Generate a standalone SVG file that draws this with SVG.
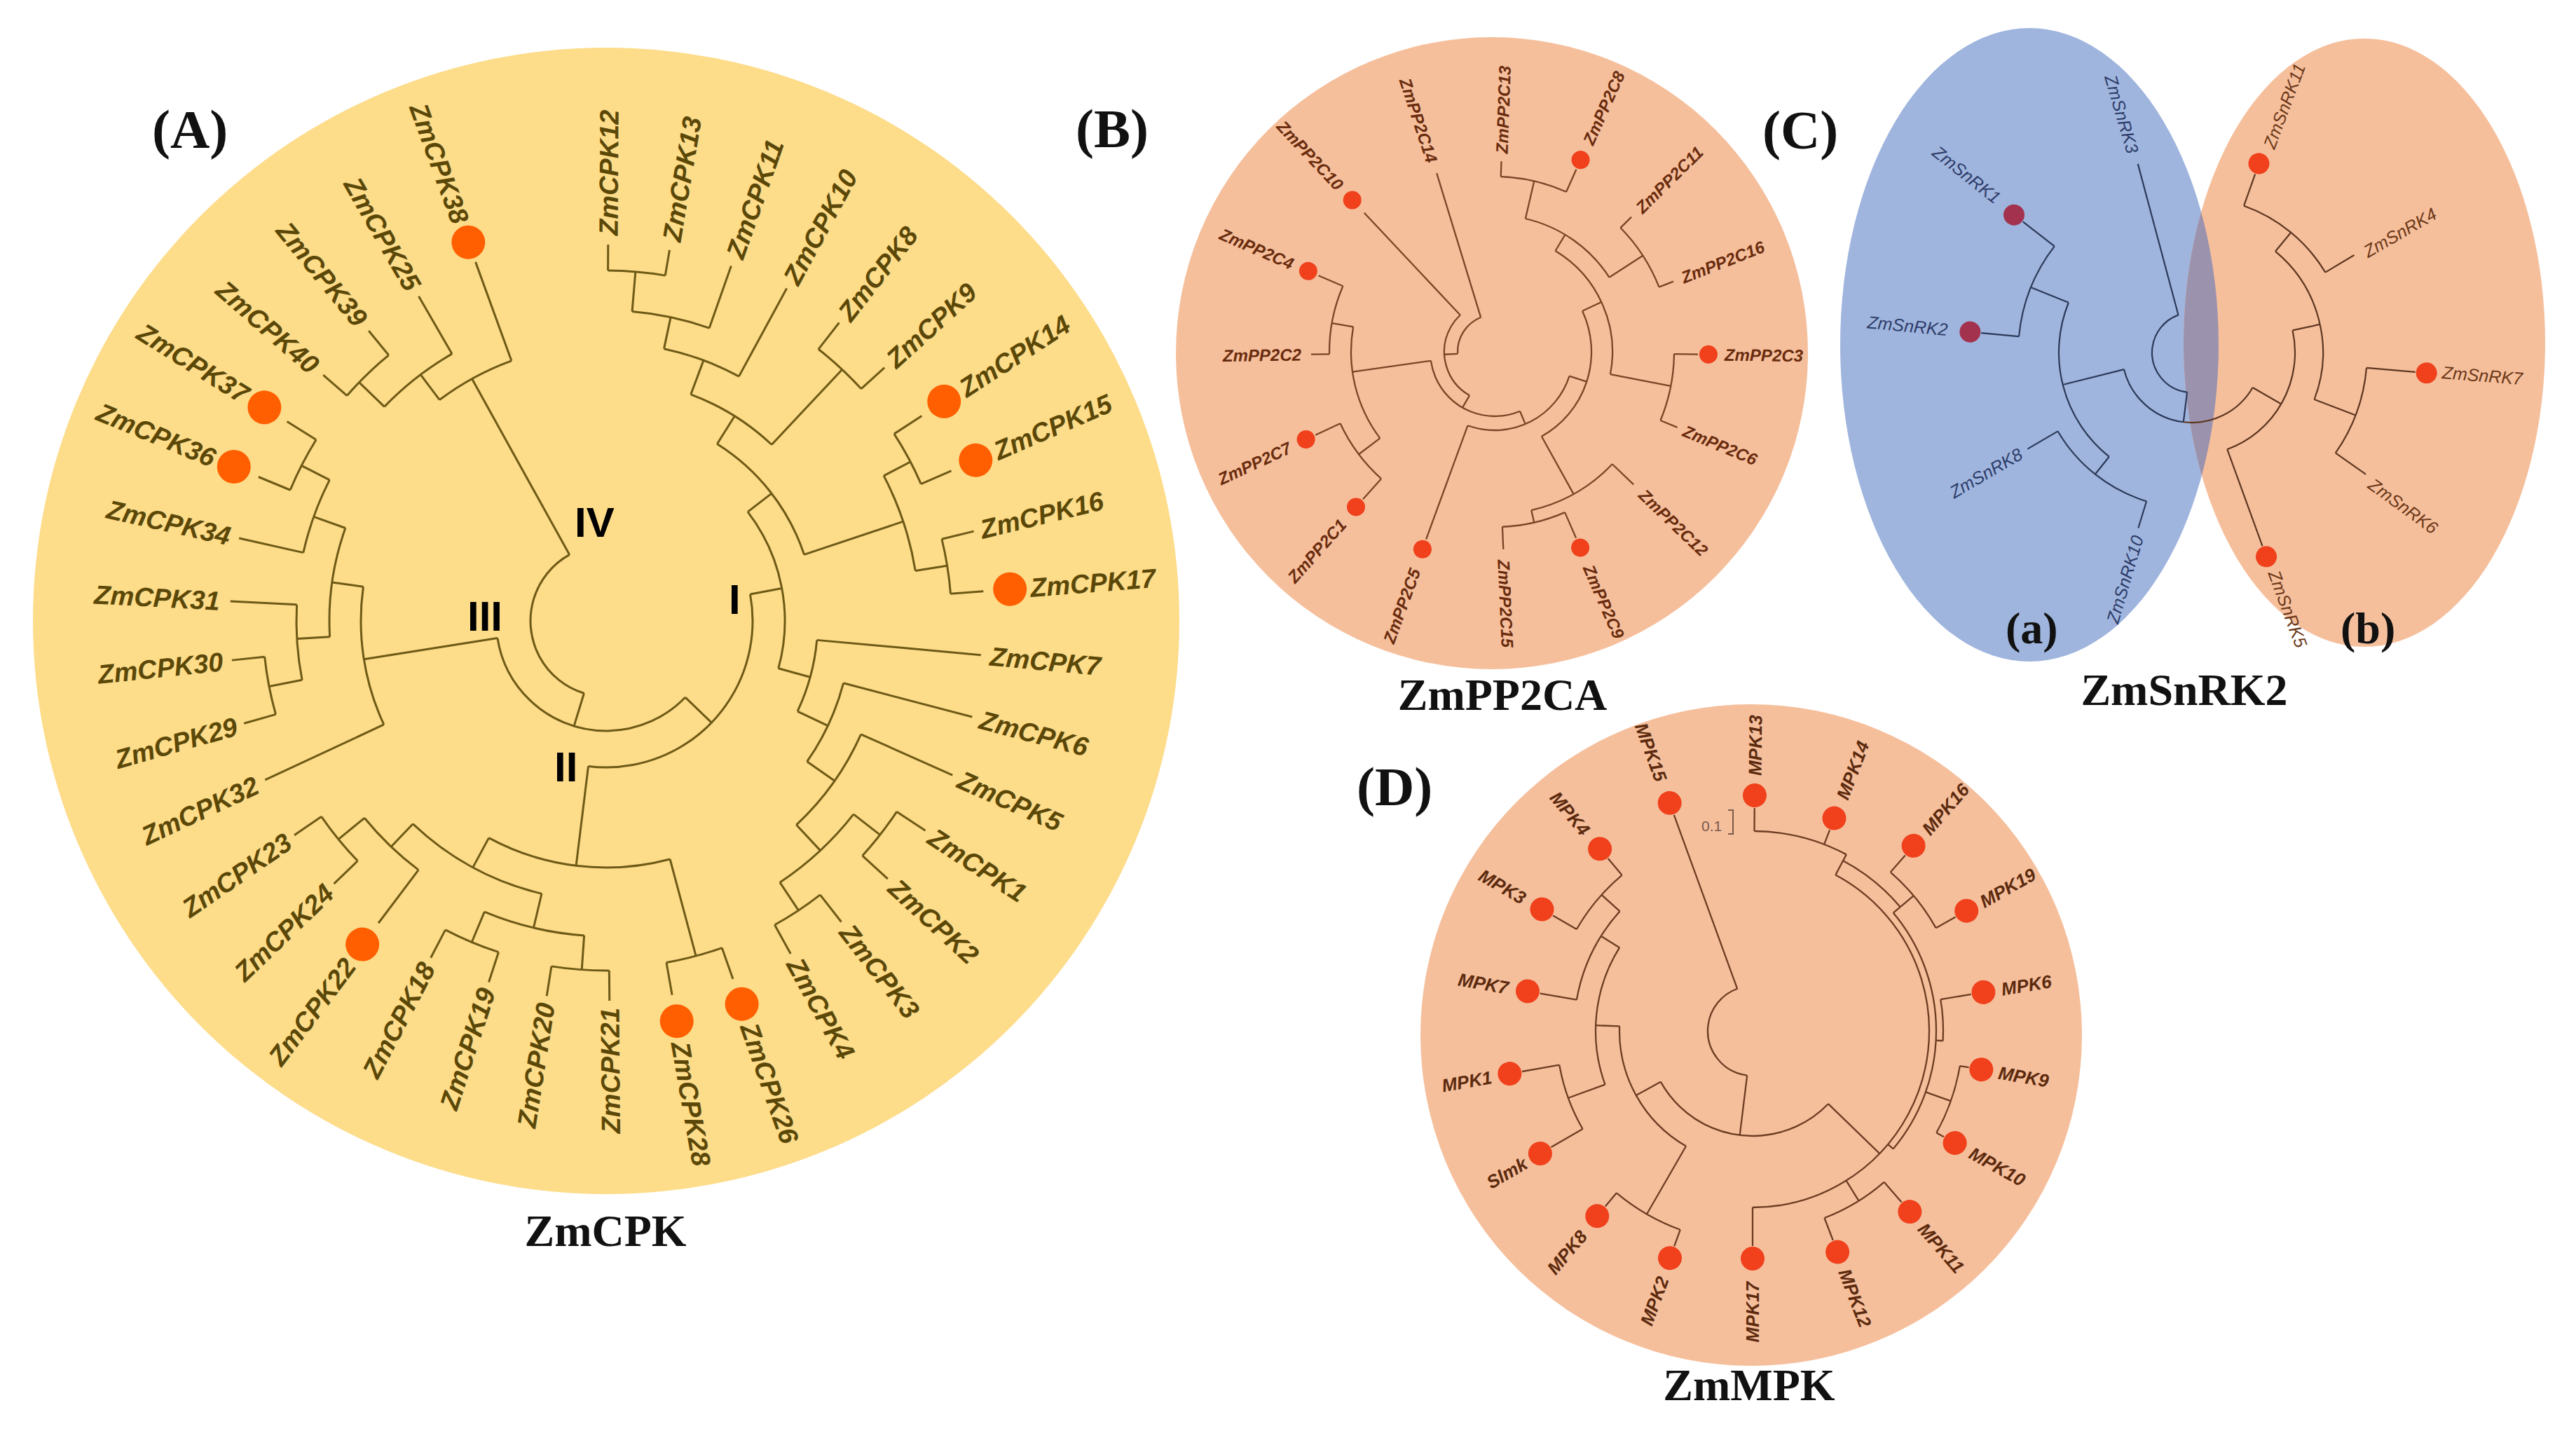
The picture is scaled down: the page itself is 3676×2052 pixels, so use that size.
<svg xmlns="http://www.w3.org/2000/svg" width="3676" height="2052" viewBox="0 0 3676 2052">
<defs>
<style>
.ta{fill:none;stroke:#6e5a16;stroke-width:3}
.tb{fill:none;stroke:#7a4526;stroke-width:2.3}
.tc{fill:none;stroke:#2c3958;stroke-width:2.2}
.td{fill:none;stroke:#5e3620;stroke-width:2.2}
.te{fill:none;stroke:#6d3c22;stroke-width:2.3}
.la{font-family:"Liberation Sans",Arial,sans-serif;font-style:italic;font-weight:bold;font-size:38px;fill:#5b4808}
.lb{font-family:"Liberation Sans",Arial,sans-serif;font-style:italic;font-weight:bold;font-size:24px;fill:#6a2c0e}
.lca{font-family:"Liberation Sans",Arial,sans-serif;font-style:italic;font-size:25px;fill:#2e3c68}
.lcb{font-family:"Liberation Sans",Arial,sans-serif;font-style:italic;font-size:25px;fill:#6c3818}
.ld{font-family:"Liberation Sans",Arial,sans-serif;font-style:italic;font-weight:bold;font-size:26px;fill:#5c2a0e}
.e{text-anchor:end}
.rom{font-family:"Liberation Sans",Arial,sans-serif;font-weight:bold;font-size:60px;fill:#000}
.pl{font-family:"Liberation Serif","Times New Roman",serif;font-weight:bold;font-size:78px;fill:#111}
.ti{font-family:"Liberation Serif","Times New Roman",serif;font-weight:bold;font-size:64px;fill:#111;text-anchor:middle}
.sub{font-family:"Liberation Serif","Times New Roman",serif;font-weight:bold;font-size:64px;fill:#111}
.dA{fill:#ff5f00}
.dB{fill:#f0401c}
.dCa{fill:#a3324e}
</style>
<clipPath id="blueClip"><ellipse cx="2896" cy="492" rx="270" ry="452"/></clipPath>
</defs>
<rect width="3676" height="2052" fill="#ffffff"/>

<!-- ================= PANEL A ================= -->
<g id="panelA">
<circle cx="865" cy="886" r="818" fill="#fddc8a"/>
<g transform="translate(865 886)">
<g id="connectorsA" class="ta">
<line x1="108" x2="395" transform="rotate(-119)"/>
<line x1="395" x2="545" transform="rotate(-110)"/>
<line x1="395" x2="440" transform="rotate(-127)"/>
<line x1="440" x2="535" transform="rotate(-120)"/>
<line x1="440" x2="490" transform="rotate(-136)"/>
<line x1="490" x2="535" transform="rotate(-129.3)"/>
<line x1="490" x2="535" transform="rotate(-139)"/>
<line x1="108" x2="157" transform="rotate(107)"/>
<line x1="157" x2="350" transform="rotate(171)"/>
<line x1="350" x2="537" transform="rotate(155)"/>
<line x1="350" x2="395" transform="rotate(188)"/>
<line x1="395" x2="442" transform="rotate(176.7)"/>
<line x1="442" x2="537" transform="rotate(183)"/>
<line x1="442" x2="490" transform="rotate(169)"/>
<line x1="490" x2="537" transform="rotate(174)"/>
<line x1="490" x2="537" transform="rotate(164.2)"/>
<line x1="395" x2="443" transform="rotate(199.6)"/>
<line x1="443" x2="537" transform="rotate(192.7)"/>
<line x1="443" x2="488" transform="rotate(207)"/>
<line x1="488" x2="537" transform="rotate(202.5)"/>
<line x1="488" x2="537" transform="rotate(212)"/>
<line x1="157" x2="209" transform="rotate(44)"/>
<line x1="209" x2="352" transform="rotate(97)"/>
<line x1="352" x2="400" transform="rotate(118.4)"/>
<line x1="400" x2="445" transform="rotate(133.6)"/>
<line x1="445" x2="493" transform="rotate(140.8)"/>
<line x1="493" x2="540" transform="rotate(145.5)"/>
<line x1="493" x2="540" transform="rotate(136)"/>
<line x1="445" x2="540" transform="rotate(127)"/>
<line x1="400" x2="450" transform="rotate(103.3)"/>
<line x1="450" x2="497" transform="rotate(112.7)"/>
<line x1="497" x2="542" transform="rotate(117.5)"/>
<line x1="497" x2="542" transform="rotate(108)"/>
<line x1="450" x2="499" transform="rotate(94)"/>
<line x1="499" x2="542" transform="rotate(99)"/>
<line x1="499" x2="542" transform="rotate(89.5)"/>
<line x1="352" x2="495" transform="rotate(75)"/>
<line x1="495" x2="542" transform="rotate(80)"/>
<line x1="495" x2="542" transform="rotate(70.5)"/>
<line x1="209" x2="255" transform="rotate(-10.5)"/>
<line x1="255" x2="298" transform="rotate(-37.6)"/>
<line x1="298" x2="447" transform="rotate(-18.5)"/>
<line x1="447" x2="490" transform="rotate(-27.6)"/>
<line x1="490" x2="537" transform="rotate(-33)"/>
<line x1="490" x2="537" transform="rotate(-23.5)"/>
<line x1="447" x2="493" transform="rotate(-9.2)"/>
<line x1="493" x2="540" transform="rotate(-13.7)"/>
<line x1="493" x2="540" transform="rotate(-4.5)"/>
<line x1="298" x2="345" transform="rotate(-57.9)"/>
<line x1="345" x2="492" transform="rotate(-46.8)"/>
<line x1="492" x2="540" transform="rotate(-52)"/>
<line x1="492" x2="537" transform="rotate(-42.3)"/>
<line x1="345" x2="397" transform="rotate(-69.5)"/>
<line x1="397" x2="540" transform="rotate(-61.5)"/>
<line x1="397" x2="443" transform="rotate(-78)"/>
<line x1="443" x2="537" transform="rotate(-70.6)"/>
<line x1="443" x2="500" transform="rotate(-85.2)"/>
<line x1="500" x2="537" transform="rotate(-89.7)"/>
<line x1="500" x2="537" transform="rotate(-80.3)"/>
<line x1="255" x2="302" transform="rotate(15.4)"/>
<line x1="302" x2="537" transform="rotate(5.2)"/>
<line x1="302" x2="350" transform="rotate(25.3)"/>
<line x1="350" x2="540" transform="rotate(14.7)"/>
<line x1="350" x2="398" transform="rotate(35)"/>
<line x1="398" x2="541" transform="rotate(24)"/>
<line x1="398" x2="448" transform="rotate(47)"/>
<line x1="448" x2="496" transform="rotate(38)"/>
<line x1="496" x2="545" transform="rotate(33.3)"/>
<line x1="496" x2="545" transform="rotate(42.5)"/>
<line x1="448" x2="496" transform="rotate(56.4)"/>
<line x1="496" x2="545" transform="rotate(52)"/>
<line x1="496" x2="543" transform="rotate(61)"/>
<circle r="108" transform="rotate(107)" stroke-dasharray="252.6 9999"/>
<circle r="395" transform="rotate(-127)" stroke-dasharray="117.2 9999"/>
<circle r="440" transform="rotate(-136)" stroke-dasharray="122.9 9999"/>
<circle r="490" transform="rotate(-139)" stroke-dasharray="83 9999"/>
<circle r="157" transform="rotate(44)" stroke-dasharray="348 9999"/>
<circle r="350" transform="rotate(155)" stroke-dasharray="201.6 9999"/>
<circle r="395" transform="rotate(176.7)" stroke-dasharray="157.9 9999"/>
<circle r="442" transform="rotate(169)" stroke-dasharray="108 9999"/>
<circle r="490" transform="rotate(164.2)" stroke-dasharray="83.8 9999"/>
<circle r="443" transform="rotate(192.7)" stroke-dasharray="110.6 9999"/>
<circle r="488" transform="rotate(202.5)" stroke-dasharray="80.9 9999"/>
<circle r="209" transform="rotate(-10.5)" stroke-dasharray="392.1 9999"/>
<circle r="352" transform="rotate(75)" stroke-dasharray="266.6 9999"/>
<circle r="400" transform="rotate(103.3)" stroke-dasharray="211.5 9999"/>
<circle r="445" transform="rotate(127)" stroke-dasharray="107.2 9999"/>
<circle r="493" transform="rotate(136)" stroke-dasharray="81.7 9999"/>
<circle r="450" transform="rotate(94)" stroke-dasharray="146.9 9999"/>
<circle r="497" transform="rotate(108)" stroke-dasharray="82.4 9999"/>
<circle r="499" transform="rotate(89.5)" stroke-dasharray="82.7 9999"/>
<circle r="495" transform="rotate(70.5)" stroke-dasharray="82.1 9999"/>
<circle r="255" transform="rotate(-37.6)" stroke-dasharray="235.9 9999"/>
<circle r="298" transform="rotate(-57.9)" stroke-dasharray="204.9 9999"/>
<circle r="447" transform="rotate(-27.6)" stroke-dasharray="143.5 9999"/>
<circle r="490" transform="rotate(-33)" stroke-dasharray="81.2 9999"/>
<circle r="493" transform="rotate(-13.7)" stroke-dasharray="79.2 9999"/>
<circle r="345" transform="rotate(-69.5)" stroke-dasharray="136.7 9999"/>
<circle r="492" transform="rotate(-52)" stroke-dasharray="83.3 9999"/>
<circle r="397" transform="rotate(-78)" stroke-dasharray="114.3 9999"/>
<circle r="443" transform="rotate(-85.2)" stroke-dasharray="112.9 9999"/>
<circle r="500" transform="rotate(-89.7)" stroke-dasharray="82 9999"/>
<circle r="302" transform="rotate(5.2)" stroke-dasharray="105.9 9999"/>
<circle r="350" transform="rotate(14.7)" stroke-dasharray="124 9999"/>
<circle r="398" transform="rotate(24)" stroke-dasharray="159.8 9999"/>
<circle r="448" transform="rotate(38)" stroke-dasharray="143.9 9999"/>
<circle r="496" transform="rotate(33.3)" stroke-dasharray="79.6 9999"/>
<circle r="496" transform="rotate(52)" stroke-dasharray="77.9 9999"/>
</g>
<g id="dotsA" class="dA">
<circle cx="575" r="24" transform="rotate(-33)"/>
<circle cx="575" r="24" transform="rotate(-23.5)"/>
<circle cx="578" r="24" transform="rotate(-4.5)"/>
<circle cx="580" r="24" transform="rotate(70.5)"/>
<circle cx="580" r="24" transform="rotate(80)"/>
<circle cx="578" r="24" transform="rotate(127)"/>
<circle cx="575" r="24" transform="rotate(202.5)"/>
<circle cx="575" r="24" transform="rotate(212)"/>
<circle cx="575" r="24" transform="rotate(250)"/>
</g>
<g id="labelsA">
<text id="ZmCPK12" class="la" transform="rotate(-89.7) translate(550 0)" dy=".36em">ZmCPK12</text>
<text id="ZmCPK13" class="la" transform="rotate(-80.3) translate(550 0)" dy=".36em">ZmCPK13</text>
<text id="ZmCPK11" class="la" transform="rotate(-70.6) translate(550 0)" dy=".36em">ZmCPK11</text>
<text id="ZmCPK10" class="la" transform="rotate(-61.5) translate(550 0)" dy=".36em">ZmCPK10</text>
<text id="ZmCPK8" class="la" transform="rotate(-52) translate(550 0)" dy=".36em">ZmCPK8</text>
<text id="ZmCPK9" class="la" transform="rotate(-42.3) translate(548 0)" dy=".36em">ZmCPK9</text>
<text id="ZmCPK14" class="la" transform="rotate(-33) translate(605 0)" dy=".36em">ZmCPK14</text>
<text id="ZmCPK15" class="la" transform="rotate(-23.5) translate(605 0)" dy=".36em">ZmCPK15</text>
<text id="ZmCPK16" class="la" transform="rotate(-13.7) translate(550 0)" dy=".36em">ZmCPK16</text>
<text id="ZmCPK17" class="la" transform="rotate(-4.5) translate(607 0)" dy=".36em">ZmCPK17</text>
<text id="ZmCPK7" class="la" transform="rotate(5.2) translate(550 0)" dy=".36em">ZmCPK7</text>
<text id="ZmCPK6" class="la" transform="rotate(14.7) translate(552 0)" dy=".36em">ZmCPK6</text>
<text id="ZmCPK5" class="la" transform="rotate(24) translate(552 0)" dy=".36em">ZmCPK5</text>
<text id="ZmCPK1" class="la" transform="rotate(33.3) translate(555 0)" dy=".36em">ZmCPK1</text>
<text id="ZmCPK2" class="la" transform="rotate(42.5) translate(555 0)" dy=".36em">ZmCPK2</text>
<text id="ZmCPK3" class="la" transform="rotate(52) translate(555 0)" dy=".36em">ZmCPK3</text>
<text id="ZmCPK4" class="la" transform="rotate(61) translate(553 0)" dy=".36em">ZmCPK4</text>
<text id="ZmCPK26" class="la" transform="rotate(70.5) translate(610 0)" dy=".36em">ZmCPK26</text>
<text id="ZmCPK28" class="la" transform="rotate(80) translate(610 0)" dy=".36em">ZmCPK28</text>
<text id="ZmCPK21" class="la e" transform="rotate(89.5) translate(552 0) rotate(180)" dy=".36em">ZmCPK21</text>
<text id="ZmCPK20" class="la e" transform="rotate(99) translate(552 0) rotate(180)" dy=".36em">ZmCPK20</text>
<text id="ZmCPK19" class="la e" transform="rotate(108) translate(552 0) rotate(180)" dy=".36em">ZmCPK19</text>
<text id="ZmCPK18" class="la e" transform="rotate(117.5) translate(552 0) rotate(180)" dy=".36em">ZmCPK18</text>
<text id="ZmCPK22" class="la e" transform="rotate(127) translate(608 0) rotate(180)" dy=".36em">ZmCPK22</text>
<text id="ZmCPK24" class="la e" transform="rotate(136) translate(550 0) rotate(180)" dy=".36em">ZmCPK24</text>
<text id="ZmCPK23" class="la e" transform="rotate(145.5) translate(550 0) rotate(180)" dy=".36em">ZmCPK23</text>
<text id="ZmCPK32" class="la e" transform="rotate(155) translate(550 0) rotate(180)" dy=".36em">ZmCPK32</text>
<text id="ZmCPK29" class="la e" transform="rotate(164.2) translate(548 0) rotate(180)" dy=".36em">ZmCPK29</text>
<text id="ZmCPK30" class="la e" transform="rotate(174) translate(550 0) rotate(180)" dy=".36em">ZmCPK30</text>
<text id="ZmCPK31" class="la e" transform="rotate(183) translate(552 0) rotate(180)" dy=".36em">ZmCPK31</text>
<text id="ZmCPK34" class="la e" transform="rotate(192.7) translate(550 0) rotate(180)" dy=".36em">ZmCPK34</text>
<text id="ZmCPK36" class="la e" transform="rotate(202.5) translate(605 0) rotate(180)" dy=".36em">ZmCPK36</text>
<text id="ZmCPK37" class="la e" transform="rotate(212) translate(605 0) rotate(180)" dy=".36em">ZmCPK37</text>
<text id="ZmCPK40" class="la e" transform="rotate(221) translate(550 0) rotate(180)" dy=".36em">ZmCPK40</text>
<text id="ZmCPK39" class="la e" transform="rotate(230.7) translate(550 0) rotate(180)" dy=".36em">ZmCPK39</text>
<text id="ZmCPK25" class="la e" transform="rotate(240) translate(548 0) rotate(180)" dy=".36em">ZmCPK25</text>
<text id="ZmCPK38" class="la e" transform="rotate(250) translate(605 0) rotate(180)" dy=".36em">ZmCPK38</text>
</g>
<g id="cladesA">
<text class="rom" x="-45" y="-120">IV</text>
<text class="rom" x="-198" y="14">III</text>
<text class="rom" x="-74" y="229">II</text>
<text class="rom" x="175" y="-10">I</text>
</g>
</g>
<text id="labA" class="pl" x="217" y="211">(A)</text>
<text id="titleA" class="ti" x="864" y="1778">ZmCPK</text>
</g>

<!-- ================= PANEL B ================= -->
<g id="panelB">
<circle cx="2129" cy="504" r="451" fill="#f5bf9c"/>
<g transform="translate(2133 502)">
<g id="connectorsB" class="tb">
<path d="M53,0 L267.3,18.7" transform="rotate(-112)"/>
<line x1="53" x2="72" transform="rotate(177)"/>
<line x1="72" x2="272" transform="rotate(-133.2)"/>
<line x1="72" x2="92" transform="rotate(120)"/>
<line x1="92" x2="205" transform="rotate(172)"/>
<line x1="205" x2="243" transform="rotate(143)"/>
<line x1="243" x2="282" transform="rotate(131.8)"/>
<line x1="243" x2="282" transform="rotate(155.1)"/>
<line x1="205" x2="236" transform="rotate(190)"/>
<line x1="236" x2="262" transform="rotate(179.2)"/>
<line x1="236" x2="274" transform="rotate(203.4)"/>
<line x1="92" x2="112" transform="rotate(67)"/>
<line x1="112" x2="285" transform="rotate(110.1)"/>
<line x1="112" x2="138" transform="rotate(18)"/>
<line x1="138" x2="232" transform="rotate(61)"/>
<line x1="232" x2="274" transform="rotate(43.7)"/>
<line x1="232" x2="250" transform="rotate(77)"/>
<line x1="250" x2="290" transform="rotate(66.4)"/>
<line x1="250" x2="282" transform="rotate(87.5)"/>
<line x1="138" x2="168" transform="rotate(-25)"/>
<line x1="168" x2="256" transform="rotate(11)"/>
<line x1="256" x2="290" transform="rotate(0.7)"/>
<line x1="256" x2="282" transform="rotate(22.5)"/>
<line x1="168" x2="195" transform="rotate(-59)"/>
<line x1="195" x2="250" transform="rotate(-77)"/>
<line x1="250" x2="272" transform="rotate(-88)"/>
<line x1="250" x2="285" transform="rotate(-65.9)"/>
<line x1="195" x2="252" transform="rotate(-33)"/>
<line x1="252" x2="274" transform="rotate(-44.6)"/>
<line x1="252" x2="274" transform="rotate(-21.5)"/>
<circle r="53" transform="rotate(177)" stroke-dasharray="65.7 9999"/>
<circle r="72" transform="rotate(120)" stroke-dasharray="134.5 9999"/>
<circle r="92" transform="rotate(67)" stroke-dasharray="168.6 9999"/>
<circle r="205" transform="rotate(143)" stroke-dasharray="168.2 9999"/>
<circle r="243" transform="rotate(131.8)" stroke-dasharray="98.8 9999"/>
<circle r="236" transform="rotate(179.2)" stroke-dasharray="99.7 9999"/>
<circle r="112" transform="rotate(18)" stroke-dasharray="179.8 9999"/>
<circle r="138" transform="rotate(-25)" stroke-dasharray="207.1 9999"/>
<circle r="232" transform="rotate(43.7)" stroke-dasharray="134.8 9999"/>
<circle r="250" transform="rotate(66.4)" stroke-dasharray="92.1 9999"/>
<circle r="168" transform="rotate(-59)" stroke-dasharray="205.2 9999"/>
<circle r="256" transform="rotate(0.7)" stroke-dasharray="97.4 9999"/>
<circle r="195" transform="rotate(-77)" stroke-dasharray="149.7 9999"/>
<circle r="250" transform="rotate(-88)" stroke-dasharray="96.4 9999"/>
<circle r="252" transform="rotate(-44.6)" stroke-dasharray="101.6 9999"/>
</g>
<g id="dotsB" class="dB">
<circle cx="300" r="13" transform="rotate(-65.9)"/>
<circle cx="305" r="13" transform="rotate(0.7)"/>
<circle cx="305" r="13" transform="rotate(66.4)"/>
<circle cx="300" r="13" transform="rotate(110.1)"/>
<circle cx="297" r="13" transform="rotate(131.8)"/>
<circle cx="297" r="13" transform="rotate(155.1)"/>
<circle cx="290" r="13" transform="rotate(203.4)"/>
<circle cx="297" r="13" transform="rotate(226.8)"/>
</g>
<g id="labelsB">
<text id="ZmPP2C13" class="lb" transform="rotate(-88) translate(283 0)" dy=".36em">ZmPP2C13</text>
<text id="ZmPP2C8" class="lb" transform="rotate(-65.9) translate(325 0)" dy=".36em">ZmPP2C8</text>
<text id="ZmPP2C11" class="lb" transform="rotate(-44.6) translate(288 0)" dy=".36em">ZmPP2C11</text>
<text id="ZmPP2C16" class="lb" transform="rotate(-21.5) translate(287 0)" dy=".36em">ZmPP2C16</text>
<text id="ZmPP2C3" class="lb" transform="rotate(0.7) translate(328 0)" dy=".36em">ZmPP2C3</text>
<text id="ZmPP2C6" class="lb" transform="rotate(22.5) translate(292 0)" dy=".36em">ZmPP2C6</text>
<text id="ZmPP2C12" class="lb" transform="rotate(43.7) translate(290 0)" dy=".36em">ZmPP2C12</text>
<text id="ZmPP2C9" class="lb" transform="rotate(66.4) translate(333 0)" dy=".36em">ZmPP2C9</text>
<text id="ZmPP2C15" class="lb" transform="rotate(87.5) translate(297 0)" dy=".36em">ZmPP2C15</text>
<text id="ZmPP2C5" class="lb e" transform="rotate(110.1) translate(330 0) rotate(180)" dy=".36em">ZmPP2C5</text>
<text id="ZmPP2C1" class="lb e" transform="rotate(131.8) translate(325 0) rotate(180)" dy=".36em">ZmPP2C1</text>
<text id="ZmPP2C7" class="lb e" transform="rotate(155.1) translate(322 0) rotate(180)" dy=".36em">ZmPP2C7</text>
<text id="ZmPP2C2" class="lb e" transform="rotate(179.2) translate(276 0) rotate(180)" dy=".36em">ZmPP2C2</text>
<text id="ZmPP2C4" class="lb e" transform="rotate(203.4) translate(314 0) rotate(180)" dy=".36em">ZmPP2C4</text>
<text id="ZmPP2C10" class="lb e" transform="rotate(226.8) translate(322 0) rotate(180)" dy=".36em">ZmPP2C10</text>
<text id="ZmPP2C14" class="lb e" transform="rotate(251.8) translate(285 0) rotate(180)" dy=".36em">ZmPP2C14</text>
</g>
</g>
<text id="labB" class="pl" x="1535" y="210">(B)</text>
<text id="titleB" class="ti" x="2144" y="1013">ZmPP2CA</text>
</g>

<!-- ================= PANEL C ================= -->
<g id="panelC">
<ellipse id="groupA" cx="2896" cy="492" rx="270" ry="452" fill="#9fb5de"/>
<ellipse id="groupB" cx="3374" cy="489" rx="258" ry="434" fill="#f5bf9c"/>
<ellipse cx="3374" cy="489" rx="258" ry="434" fill="#9b93ae" clip-path="url(#blueClip)"/>
<g transform="translate(3128 503)">
<g id="connectorsC">
<g class="tc">
<path d="M57,0 L279.3,19.5" transform="rotate(-110)"/>
<line x1="57" x2="100" transform="rotate(97)"/>
<line x1="100" x2="190" transform="rotate(166)"/>
<line x1="190" x2="248" transform="rotate(202)"/>
<line x1="248" x2="302" transform="rotate(185.3)"/>
<line x1="248" x2="305" transform="rotate(217.7)"/>
<line x1="190" x2="222" transform="rotate(128.5)"/>
<line x1="222" x2="272" transform="rotate(149.6)"/>
<line x1="222" x2="262" transform="rotate(107)"/>
<circle r="57" transform="rotate(97)" stroke-dasharray="152.2 9999"/>
<circle r="100" transform="rotate(97)" stroke-dasharray="120.4 9999"/>
<circle r="190" transform="rotate(128.5)" stroke-dasharray="243.7 9999"/>
<circle r="248" transform="rotate(185.3)" stroke-dasharray="140.2 9999"/>
<circle r="222" transform="rotate(107)" stroke-dasharray="165.1 9999"/>
</g>
<g class="td">
<circle r="100" transform="rotate(30)" stroke-dasharray="116.9 9999"/>
<line x1="100" x2="147" transform="rotate(30)"/>
<line x1="147" x2="294" transform="rotate(70)"/>
<line x1="147" x2="187" transform="rotate(-12.4)"/>
<line x1="187" x2="222" transform="rotate(-50.5)"/>
<line x1="222" x2="270" transform="rotate(-70.5)"/>
<line x1="222" x2="270" transform="rotate(-31)"/>
<line x1="187" x2="250" transform="rotate(21)"/>
<line x1="250" x2="320" transform="rotate(5)"/>
<line x1="250" x2="303" transform="rotate(35)"/>
<circle r="147" transform="rotate(-12.4)" stroke-dasharray="211.4 9999"/>
<circle r="187" transform="rotate(-50.5)" stroke-dasharray="233.4 9999"/>
<circle r="222" transform="rotate(-70.5)" stroke-dasharray="153 9999"/>
<circle r="250" transform="rotate(5)" stroke-dasharray="130.9 9999"/>
</g>
</g>
<g id="dotsC">
<circle class="dCa" cx="321" r="15" transform="rotate(217.7)"/>
<circle class="dCa" cx="318" r="15" transform="rotate(185.3)"/>
<circle class="dB" cx="286" r="15" transform="rotate(-70.5)"/>
<circle class="dB" cx="336" r="15" transform="rotate(5)"/>
<circle class="dB" cx="310" r="15" transform="rotate(70)"/>
</g>
<g id="labelsC">
<text id="ZmSnRK3" class="lca e" transform="rotate(253.6) translate(297 0) rotate(180)" dy=".36em">ZmSnRK3</text>
<text id="ZmSnRK1" class="lca e" transform="rotate(218.3) translate(352 0) rotate(180)" dy=".36em">ZmSnRK1</text>
<text id="ZmSnRK2" class="lca e" transform="rotate(185.4) translate(350 0) rotate(180)" dy=".36em">ZmSnRK2</text>
<text id="ZmSnRK8" class="lca e" transform="rotate(149.7) translate(283 0) rotate(180)" dy=".36em">ZmSnRK8</text>
<text id="ZmSnRK10" class="lca e" transform="rotate(106.5) translate(273 0) rotate(180)" dy=".36em">ZmSnRK10</text>
<text id="ZmSnRK11" class="lcb" transform="rotate(-69.5) translate(312 0)" dy=".36em">ZmSnRK11</text>
<text id="ZmSnRK4" class="lcb" transform="rotate(-30) translate(285 0)" dy=".36em">ZmSnRK4</text>
<text id="ZmSnRK7" class="lcb" transform="rotate(4.5) translate(358 0)" dy=".36em">ZmSnRK7</text>
<text id="ZmSnRK6" class="lcb" transform="rotate(36) translate(315 0)" dy=".36em">ZmSnRK6</text>
<text id="ZmSnRK5" class="lcb" transform="rotate(69.5) translate(333 0)" dy=".36em">ZmSnRK5</text>
</g>
</g>
<text id="labC" class="pl" x="2515" y="212">(C)</text>
<text id="suba" class="sub" x="2862" y="918">(a)</text>
<text id="subb" class="sub" x="3340" y="918">(b)</text>
<text id="titleC" class="ti" x="3117" y="1006">ZmSnRK2</text>
</g>

<!-- ================= PANEL D ================= -->
<g id="panelD">
<circle cx="2499" cy="1477" r="472" fill="#f5bf9c"/>
<g transform="translate(2501 1471)">
<g id="connectorsD" class="te">
<line x1="64" x2="328" transform="rotate(250)"/>
<line x1="64" x2="150" transform="rotate(97)"/>
<line x1="150" x2="190" transform="rotate(151)"/>
<line x1="190" x2="302" transform="rotate(120)"/>
<line x1="302" x2="327" transform="rotate(110)"/>
<line x1="302" x2="327" transform="rotate(130)"/>
<line x1="190" x2="224" transform="rotate(182)"/>
<line x1="224" x2="280" transform="rotate(160)"/>
<line x1="280" x2="332" transform="rotate(150)"/>
<line x1="280" x2="334" transform="rotate(170)"/>
<line x1="224" x2="255" transform="rotate(212)"/>
<line x1="255" x2="308" transform="rotate(190)"/>
<line x1="255" x2="290" transform="rotate(222)"/>
<line x1="290" x2="329" transform="rotate(210)"/>
<line x1="290" x2="321" transform="rotate(230)"/>
<line x1="150" x2="252" transform="rotate(44)"/>
<line x1="252" x2="307" transform="rotate(90)"/>
<line x1="252" x2="286" transform="rotate(58)"/>
<line x1="286" x2="324" transform="rotate(49)"/>
<line x1="286" x2="320" transform="rotate(69)"/>
<line x1="252" x2="262" transform="rotate(40)"/>
<line x1="262" x2="300" transform="rotate(19.5)"/>
<line x1="300" x2="313" transform="rotate(9.6)"/>
<line x1="300" x2="312" transform="rotate(29)"/>
<line x1="262" x2="272" transform="rotate(3)"/>
<line x1="272" x2="316" transform="rotate(-9.5)"/>
<line x1="262" x2="300" transform="rotate(-40)"/>
<line x1="300" x2="332" transform="rotate(-49)"/>
<line x1="300" x2="332" transform="rotate(-29.3)"/>
<line x1="252" x2="285" transform="rotate(-62)"/>
<line x1="285" x2="318" transform="rotate(-89.5)"/>
<line x1="285" x2="307" transform="rotate(-69)"/>
<circle r="64" transform="rotate(97)" stroke-dasharray="170.9 9999"/>
<circle r="150" transform="rotate(44)" stroke-dasharray="280.1 9999"/>
<circle r="190" transform="rotate(120)" stroke-dasharray="205.6 9999"/>
<circle r="302" transform="rotate(110)" stroke-dasharray="105.4 9999"/>
<circle r="224" transform="rotate(160)" stroke-dasharray="203.3 9999"/>
<circle r="280" transform="rotate(150)" stroke-dasharray="97.7 9999"/>
<circle r="255" transform="rotate(190)" stroke-dasharray="142.4 9999"/>
<circle r="290" transform="rotate(210)" stroke-dasharray="101.2 9999"/>
<circle r="252" transform="rotate(-62)" stroke-dasharray="668.5 9999"/>
<circle r="286" transform="rotate(49)" stroke-dasharray="99.8 9999"/>
<circle r="262" transform="rotate(-40)" stroke-dasharray="365.8 9999"/>
<circle r="300" transform="rotate(9.6)" stroke-dasharray="101.6 9999"/>
<circle r="272" transform="rotate(-9.5)" stroke-dasharray="59.4 9999"/>
<circle r="300" transform="rotate(-49)" stroke-dasharray="103.1 9999"/>
<circle r="285" transform="rotate(-89.5)" stroke-dasharray="136.8 9999"/>
<circle r="275" transform="rotate(-62)" stroke-dasharray="105.6 9999"/>
</g>
<g id="dotsD" class="dB">
<circle cx="346" r="17" transform="rotate(250)"/>
<circle cx="336" r="17" transform="rotate(-89.5)"/>
<circle cx="325" r="17" transform="rotate(-69)"/>
<circle cx="350" r="17" transform="rotate(-49)"/>
<circle cx="350" r="17" transform="rotate(-29.3)"/>
<circle cx="334" r="17" transform="rotate(-9.5)"/>
<circle cx="331" r="17" transform="rotate(9.6)"/>
<circle cx="330" r="17" transform="rotate(29)"/>
<circle cx="342" r="17" transform="rotate(49)"/>
<circle cx="338" r="17" transform="rotate(69)"/>
<circle cx="325" r="17" transform="rotate(90)"/>
<circle cx="345" r="17" transform="rotate(110)"/>
<circle cx="345" r="17" transform="rotate(130)"/>
<circle cx="350" r="17" transform="rotate(150)"/>
<circle cx="352" r="17" transform="rotate(170)"/>
<circle cx="326" r="17" transform="rotate(190)"/>
<circle cx="347" r="17" transform="rotate(210)"/>
<circle cx="339" r="17" transform="rotate(230)"/>
</g>
<g id="labelsD">
<text id="MPK15" class="ld e" transform="rotate(250) translate(380 0) rotate(180)" dy=".36em">MPK15</text>
<text id="MPK13" class="ld" transform="rotate(-89.5) translate(364 0)" dy=".36em">MPK13</text>
<text id="MPK14" class="ld" transform="rotate(-69) translate(355 0)" dy=".36em">MPK14</text>
<text id="MPK16" class="ld" transform="rotate(-49) translate(376 0)" dy=".36em">MPK16</text>
<text id="MPK19" class="ld" transform="rotate(-29.3) translate(374 0)" dy=".36em">MPK19</text>
<text id="MPK6" class="ld" transform="rotate(-9.5) translate(360 0)" dy=".36em">MPK6</text>
<text id="MPK9" class="ld" transform="rotate(9.6) translate(356 0)" dy=".36em">MPK9</text>
<text id="MPK10" class="ld" transform="rotate(29) translate(356 0)" dy=".36em">MPK10</text>
<text id="MPK11" class="ld" transform="rotate(49) translate(368 0)" dy=".36em">MPK11</text>
<text id="MPK12" class="ld" transform="rotate(69) translate(365 0)" dy=".36em">MPK12</text>
<text id="MPK17" class="ld e" transform="rotate(90) translate(358 0) rotate(180)" dy=".36em">MPK17</text>
<text id="MPK2" class="ld e" transform="rotate(110) translate(374 0) rotate(180)" dy=".36em">MPK2</text>
<text id="MPK8" class="ld e" transform="rotate(130) translate(376 0) rotate(180)" dy=".36em">MPK8</text>
<text id="Slmk" class="ld e" transform="rotate(150) translate(374 0) rotate(180)" dy=".36em">Slmk</text>
<text id="MPK1" class="ld e" transform="rotate(170) translate(378 0) rotate(180)" dy=".36em">MPK1</text>
<text id="MPK7" class="ld e" transform="rotate(190) translate(354 0) rotate(180)" dy=".36em">MPK7</text>
<text id="MPK3" class="ld e" transform="rotate(210) translate(376 0) rotate(180)" dy=".36em">MPK3</text>
<text id="MPK4" class="ld e" transform="rotate(230) translate(369 0) rotate(180)" dy=".36em">MPK4</text>
</g>
</g>
<g id="scaleD">
<text x="2428" y="1186" font-family="Liberation Sans, Arial, sans-serif" font-size="21" fill="#7a5a4a">0.1</text>
<path d="M2466,1156 H2473 V1190 H2466" fill="none" stroke="#7a5a4a" stroke-width="2"/>
</g>
<text id="labD" class="pl" x="1936" y="1149">(D)</text>
<text id="titleD" class="ti" x="2496" y="1998">ZmMPK</text>
</g>
</svg>
